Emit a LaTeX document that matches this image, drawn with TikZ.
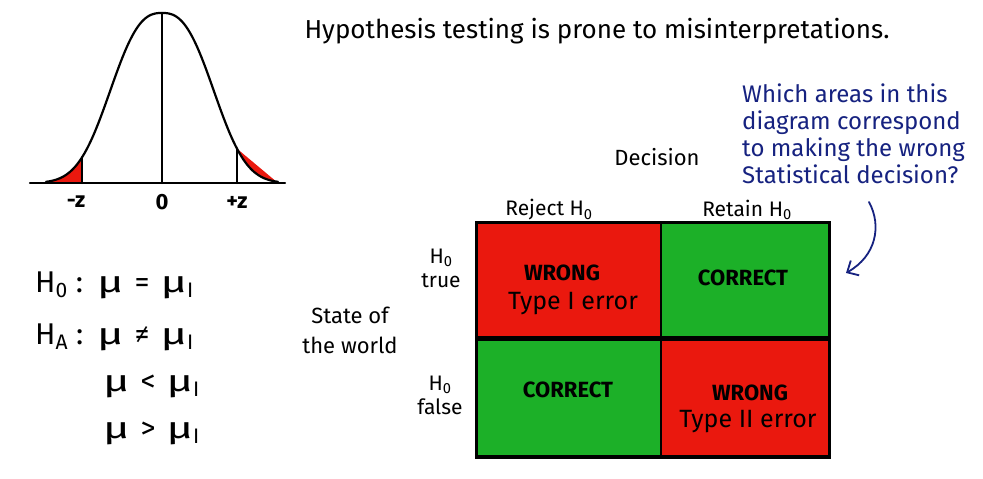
\documentclass[tikz,border=0pt]{standalone}
\usepackage{fontspec}
\setmainfont{Fira Sans}
\usetikzlibrary{arrows.meta}
\definecolor{cred}{RGB}{234,24,14}
\definecolor{cgreen}{RGB}{28,176,40}
\definecolor{qblue}{RGB}{22,34,128}
\newcommand{\gapsp}{\hspace{11pt}}
\newcommand{\wmu}{\scalebox{1.5}[1]{μ}}
\begin{document}
\begin{tikzpicture}[x=1pt,y=-1pt,
  cell/.style={draw=black,line width=2.4pt,inner sep=0pt,align=center},
  ctext/.style={inner sep=0pt,align=center,font=\fontsize{22}{24}\selectfont\bfseries},
  etext/.style={inner sep=0pt,align=center,font=\fontsize{25}{28}\selectfont},
  lbl/.style={inner sep=0pt,align=center,font=\fontsize{21}{24}\selectfont},
  hyp/.style={inner sep=0pt,anchor=base west,font=\fontsize{30}{34}\selectfont},
  curve/.style={line width=2.2pt,line cap=round,line join=round}]
\useasboundingbox (0,0) rectangle (983,479);
\fill[white] (0,0) rectangle (983,479);
% bell curve
\fill[cred] plot[domain=46:82,samples=40] (\x,{183-170*exp(-((abs(\x-162)+0.01)/62.6)^2.6)}) -- (82,183) -- cycle;
\fill[cred] plot[domain=237:278,samples=40] (\x,{183-170*exp(-((abs(\x-162)+0.01)/62.6)^2.6)}) -- (278,183) -- cycle;
\draw[curve] plot[domain=46:278,samples=120,smooth] (\x,{183-170*exp(-((abs(\x-162)+0.01)/62.6)^2.6)});
\draw[curve] (30,183) -- (285,183);
\draw[curve] (162,13) -- (162,183);
\draw[curve] (82,{183-170*exp(-(80/62.6)^2.6)}) -- (82,183);
\draw[curve] (237,{183-170*exp(-(75/62.6)^2.6)}) -- (237,183);
\node[lbl,font=\fontsize{22}{24}\selectfont\bfseries] (mz) at (76,202) {-z};
\node[lbl,font=\fontsize{22}{24}\selectfont\bfseries] (zero) at (162,202) {0};
\node[lbl,font=\fontsize{22}{24}\selectfont\bfseries] (pz) at (237,202) {+z};
% title
\node[inner sep=0pt,font=\fontsize{26}{30}\selectfont] (title) at (597,31) {Hypothesis testing is prone to misinterpretations.};
% hypotheses
\node[hyp] (h0) at (35,292) {H\textsubscript{0} :};
\node[hyp] (h0r) at (97,292) {\wmu\gapsp=\gapsp\wmu\textsubscript{I}};
\node[hyp] (ha) at (35,344) {H\textsubscript{A} :};
\node[hyp] (har) at (97,344) {\wmu\gapsp≠\gapsp\wmu\textsubscript{I}};
\node[hyp] (hl) at (103,391) {\wmu\gapsp<\gapsp\wmu\textsubscript{I}};
\node[hyp] (hg) at (103,438) {\wmu\gapsp>\gapsp\wmu\textsubscript{I}};
% grid
\node[cell,fill=cred,minimum width=184pt,minimum height=114pt] (tl) at (569,280) {};
\node[cell,fill=cgreen,minimum width=168pt,minimum height=114pt] (tr) at (745,280) {};
\node[cell,fill=cgreen,minimum width=184pt,minimum height=117pt,anchor=north] (bl) at (tl.south) {};
\node[cell,fill=cred,minimum width=168pt,minimum height=117pt,anchor=north] (br) at (tr.south) {};
\draw[line width=2.4pt] (tl.north west) rectangle (br.south east);
\node[ctext] (w1) at (562,273) {WRONG};
\node[etext] (e1) at (573,304) {Type I error};
\node[ctext] (c1) at (743,278) {CORRECT};
\node[ctext] (c2) at (568,390) {CORRECT};
\node[ctext] (w2) at (750,393) {WRONG};
\node[etext] (e2) at (748,422) {Type II error};
% labels
\node[lbl,font=\fontsize{22}{24}\selectfont] (dec) at (657,157) {Decision};
\node[lbl] (rej) at (549,210) {Reject H\textsubscript{0}};
\node[lbl] (ret) at (747,210) {Retain H\textsubscript{0}};
\node[lbl] (htrue) at (441,268) {H\textsubscript{0}\\true};
\node[lbl] (hfalse) at (440,395) {H\textsubscript{0}\\false};
\node[lbl,font=\fontsize{22}{30}\selectfont] (state) at (350,330) {State of\\the world};
% question
\node[inner sep=0pt,align=left,anchor=north west,text=qblue,font=\fontsize{24}{27}\selectfont] (q) at (742,84) {Which areas in this\\diagram correspond\\to making the wrong\\Statistical decision?};
\coordinate (qa) at (869,202);
\coordinate (qb) at (846,273);
\draw[qblue,line width=1.8pt,line cap=round,-{Straight Barb[length=9pt,width=17pt]}] (qa) .. controls (882,226) and (876,256) .. (qb);
\end{tikzpicture}
\end{document}
